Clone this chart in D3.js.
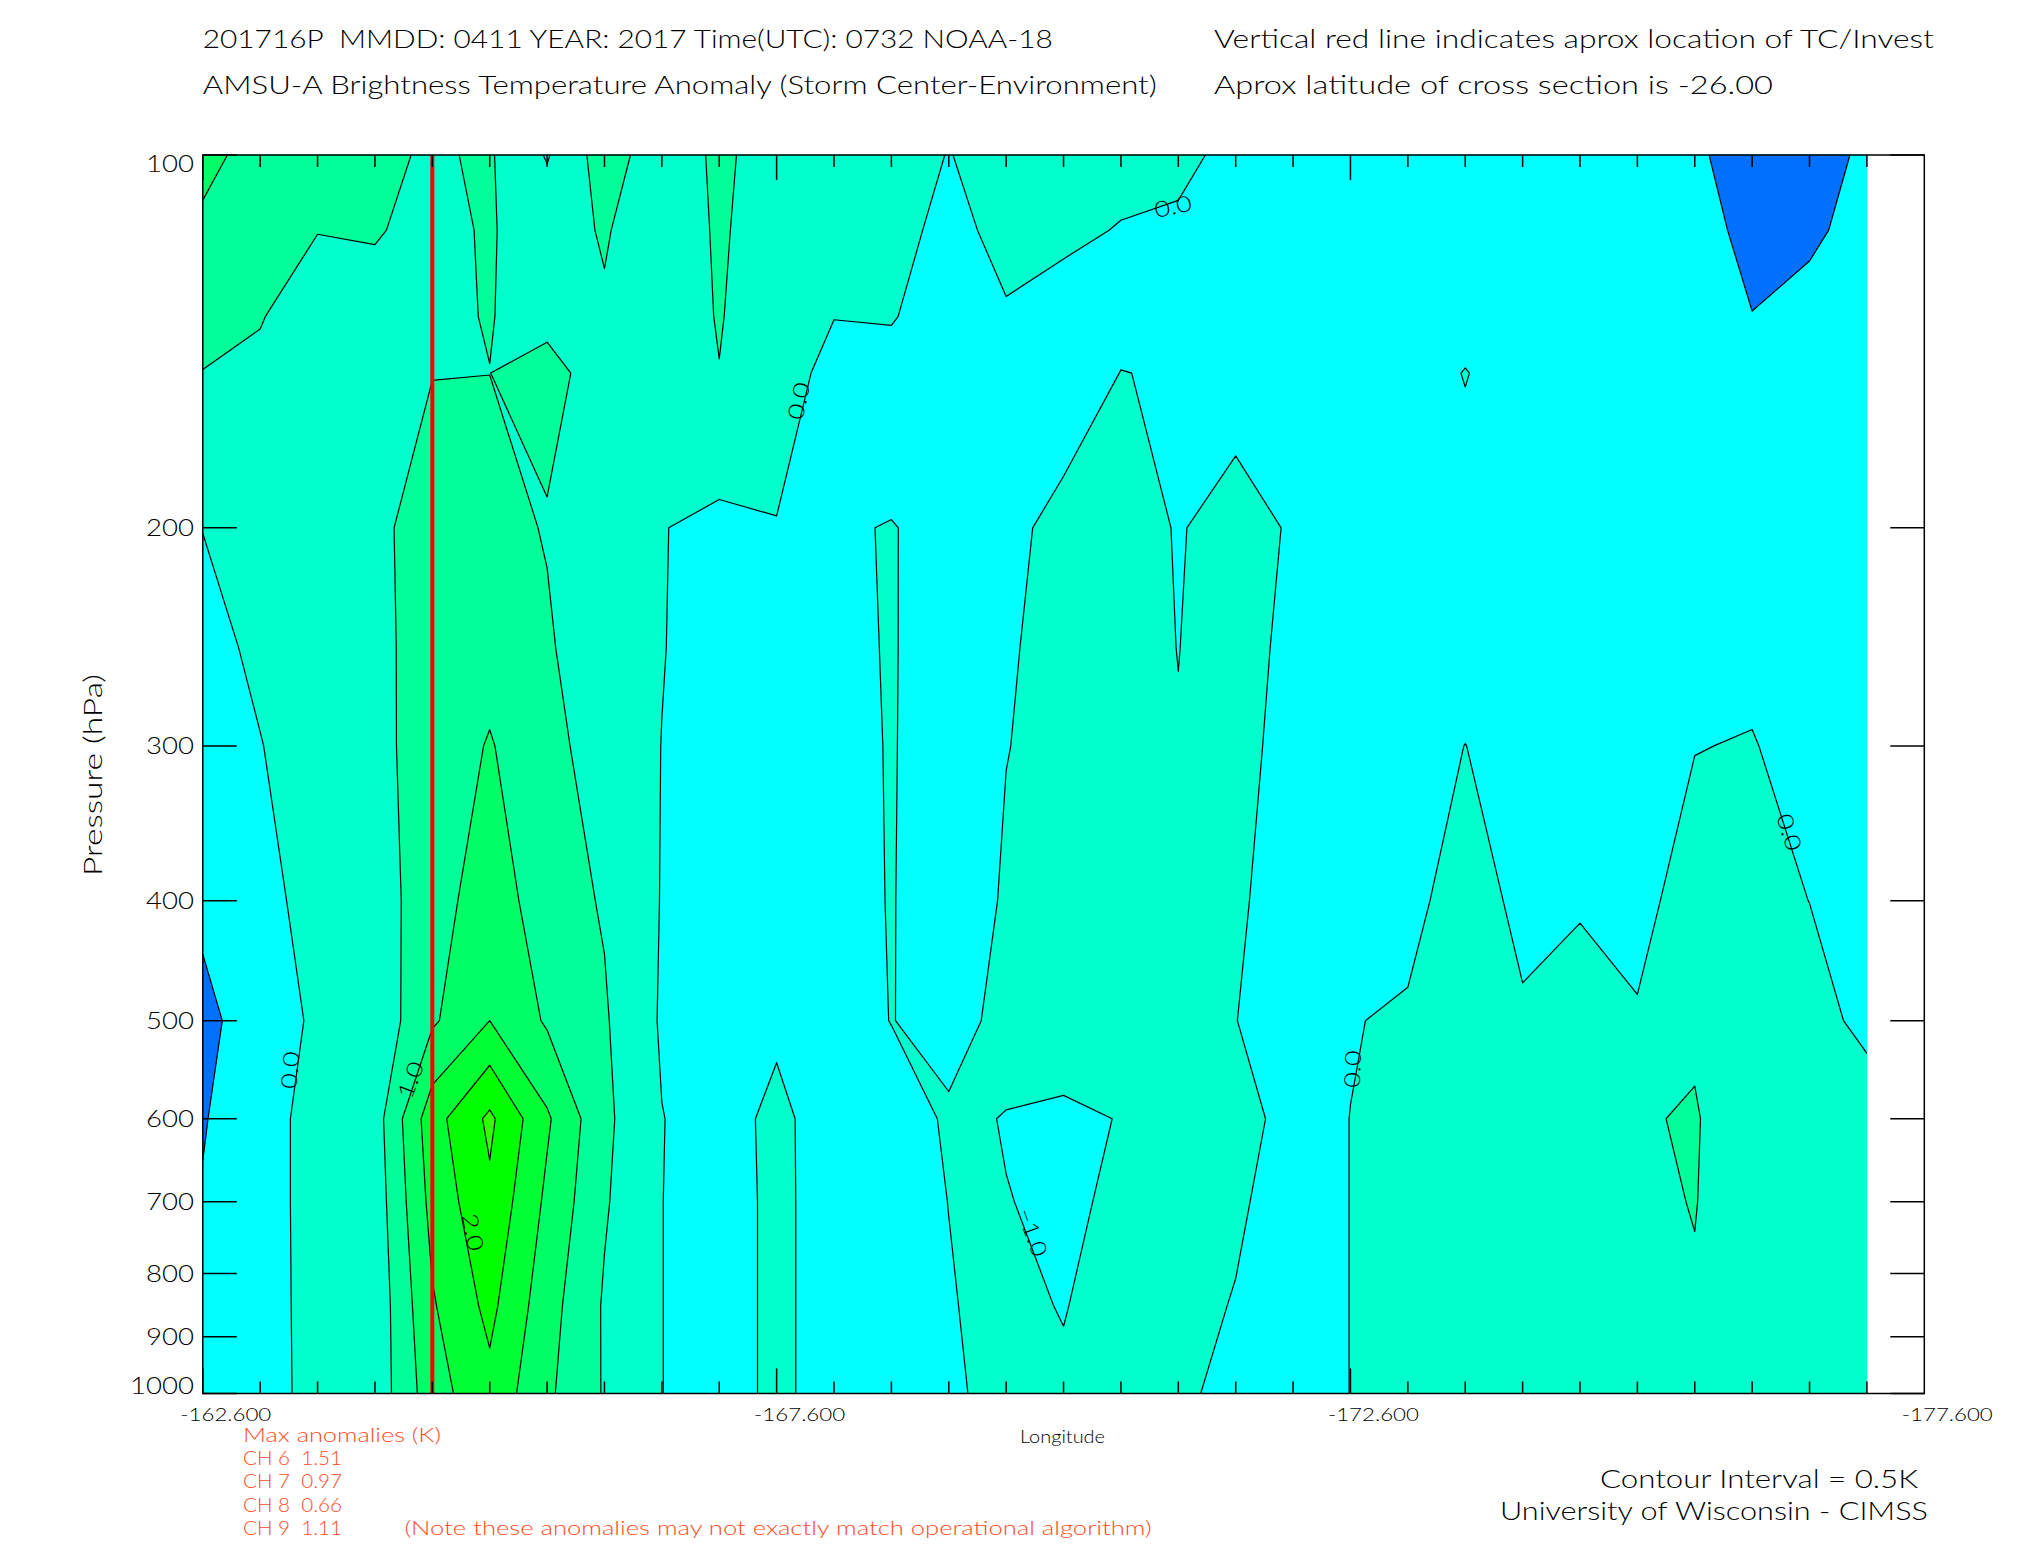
<!DOCTYPE html>
<html>
<head>
<meta charset="utf-8">
<title>AMSU-A Brightness Temperature Anomaly</title>
<script src="https://cdn.jsdelivr.net/npm/d3@7/dist/d3.min.js"></script>
<style>
html,body{margin:0;padding:0;background:#fff;}
svg{display:block;}
text{font-family:Lato,"Liberation Sans","DejaVu Sans",Arial,sans-serif;font-weight:300;white-space:pre;}
</style>
</head>
<body>
<svg id="chart" width="2025" height="1550"></svg>
<script>
// ---------------- DATA ----------------
const longitudes = [-162.6,-163.1,-163.6,-164.1,-164.6,-165.1,-165.6,-166.1,-166.6,-167.1,
                    -167.6,-168.1,-168.6,-169.1,-169.6,-170.1,-170.6,-171.1,-171.6,-172.1,
                    -172.6,-173.1,-173.6,-174.1,-174.6,-175.1,-175.6,-176.1,-176.6,-177.1];
const pressureLevels = [100,115,135,150,200,250,300,400,500,600,700,850,1000];

// brightness temperature anomaly (K), one array per pressure level
const anom100  = [1.15,0.8,0.7,0.575,0.456,0.55,-0.04,0.74,0.21,0.59,0.29,0.25,0.4,-0.03,0.38,0.18,0.086,0.041,-0.046,-0.2,-0.2,-0.2,-0.2,-0.2,-0.2,-0.2,-0.35,-0.95,-0.69,-0.42];
const anom115  = [0.9,0.7,0.51,0.52,0.42,0.53,0.3,0.54,0.2,0.56,0.25,0.15,0.12,-0.1,0.1,0.05,-0.013,-0.027,-0.1,-0.2,-0.2,-0.2,-0.2,-0.2,-0.2,-0.2,-0.1,-0.8,-0.55,-0.4];
const anom135  = [0.65,0.52,0.3,0.4,0.46,0.51,0.4,0.45,0.22,0.53,0.18,0.005,0.02,-0.15,-0.03,-0.1,-0.05,-0.1,-0.13,-0.2,-0.2,-0.2,-0.2,-0.2,-0.2,-0.2,-0.2,-0.48,-0.41,-0.35];
const anom150  = [0.49,0.43,0.16,0.39,0.49,0.498,0.62,0.33,0.25,0.49,0.12,-0.08,-0.106,-0.2,-0.15,-0.1,0.003,-0.013,-0.144,-0.2,-0.2,-0.25,0.02,-0.25,-0.2,-0.2,-0.2,-0.3,-0.3,-0.3];
const anom200  = [0.005,0.15,0.25,0.4,0.7,0.66,0.47,0.25,0.015,-0.11,-0.01,-0.015,0.006,-0.044,-0.043,0.05,0.15,-0.022,0.125,-0.033,-0.2,-0.2,-0.2,-0.2,-0.2,-0.2,-0.2,-0.25,-0.3,-0.25];
const anom250  = [-0.1,0.06,0.2,0.37,0.72,0.85,0.56,0.16,0.01,-0.12,-0.1,-0.15,0.04,-0.3,-0.05,0.158,0.25,-0.01,0.3,-0.2,-0.2,-0.2,-0.2,-0.2,-0.2,-0.2,-0.2,-0.2,-0.3,-0.25];
const anom300  = [-0.15,-0.01,0.157,0.35,0.75,1.03,0.7,0.2,-0.004,-0.15,-0.15,-0.2,0.035,-0.3,-0.01,0.115,0.3,0.032,0.177,-0.2,-0.2,-0.2,0.005,-0.2,-0.2,-0.2,-0.02,0.04,-0.3,-0.25];
const anom400  = [-0.35,-0.08,0.094,0.28,0.76,1.3,0.71,0.46,-0.02,-0.15,-0.15,-0.2,0.025,-0.3,0.053,0.15,0.3,0.2,0.063,-0.2,-0.2,-0.22,0.35,-0.18,-0.04,-0.2,0.3,0.2,-0.005,-0.2];
const anom500  = [-0.685,-0.14,0.044,0.15,0.93,1.5,0.94,0.55,-0.05,-0.17,-0.075,-0.2,0.01,-0.13,0.1,0.16,0.3,0.25,0.006,-0.2,-0.03,0.085,0.2,0.083,0.174,0.056,0.4,0.3,0.218,-0.15];
const anom600  = [-0.53,-0.2,0.18,0.27,1.8,2.6,1.57,0.607,0.01,-0.17,0.1,-0.21,-0.2,0.05,-0.01,-0.05,0.009,0.3,0.217,-0.2,0.005,0.2,0.2,0.2,0.25,0.45,0.55,0.05,0.3,0.3];
const anom700  = [-0.47,-0.2,0.18,0.21,1.66,2.4,1.4,0.55,0.005,-0.2,0.1,-0.2,-0.2,0.005,0.005,-0.03,0.029,0.3,0.067,-0.2,0.005,0.2,0.2,0.2,0.25,0.39,0.52,0.12,0.3,0.25];
const anom850  = [-0.4,-0.2,0.17,0.15,1.45,2.13,1.2,0.45,0.005,-0.2,0.1,-0.2,-0.2,-0.03,0.146,-0.03,0.3,0.136,-0.024,-0.2,0.005,0.2,0.2,0.2,0.25,0.3,0.45,0.25,0.25,0.2];
const anom1000 = [-0.35,-0.2,0.16,0.18,1.29,1.86,1.09,0.46,0.005,-0.2,0.1,-0.2,-0.2,-0.05,0.1,0.1,0.25,0.064,-0.1,-0.2,0.005,0.2,0.2,0.2,0.25,0.25,0.3,0.25,0.25,0.2];

// contour levels (K) and the fill colour of the band just above / below each level
const warmLevels = [0.5,1.0,1.5,2.0,2.5];
const warmColors = ["#00ff99","#00ff66","#00ff33","#00ff00","#33ff00"];
const coolLevels = [0,-0.5];
const coolColors = ["#00ffff","#0070ff"];
const baseColor = "#00ffcc";

const pressureTicks = [100,200,300,400,500,600,700,800,900,1000];
const lonTickLabels = [-162.6,-167.6,-172.6,-177.6];
const stormLon = -164.6;

const contourLabels = [
  {text:"0.0", lon:-167.786, p:157.9, angle:-78},
  {text:"0.0", lon:-171.053, p:109.9, angle:-12},
  {text:"0.0", lon:-163.355, p:548,   angle:-86},
  {text:"1.0", lon:-164.405, p:558,   angle:-69},
  {text:"2.0", lon:-164.959, p:740.6, angle:79},
  {text:"\u22121.0", lon:-169.834, p:740.6, angle:70},
  {text:"0.0", lon:-172.613, p:547,   angle:-88},
  {text:"0.0", lon:-176.428, p:352,   angle:72}
];

const titleLeft1 = "201716P  MMDD: 0411 YEAR: 2017 Time(UTC): 0732 NOAA-18";
const titleRight1 = "Vertical red line indicates aprox location of TC/Invest";
const titleLeft2 = "AMSU-A Brightness Temperature Anomaly (Storm Center-Environment)";
const titleRight2 = "Aprox latitude of cross section is -26.00";
const maxAnomChannels = ["CH 6","CH 7","CH 8","CH 9"];
const maxAnomValues = ["1.51","0.97","0.66","1.11"];

// ---------------- CHART ----------------
const svg = d3.select("#chart");
const plot = {left:202.8, right:1924.3, top:155, bottom:1393.5};
const xScale = d3.scaleLinear().domain([-162.6,-177.6]).range([plot.left, plot.right]);
const yScale = d3.scaleLog().domain([100,1000]).range([plot.top, plot.bottom]);

const nx = longitudes.length, ny = pressureLevels.length;
const rows = [anom100,anom115,anom135,anom150,anom200,anom250,anom300,anom400,anom500,anom600,anom700,anom850,anom1000];
const values = [].concat(...rows);
const negValues = values.map(v => -v);
const logP = pressureLevels.map(Math.log);

function gx(cx){
  const f = Math.max(0, Math.min(nx-1, cx-0.5));
  const i = Math.min(nx-2, Math.floor(f)), t = f - i;
  return xScale(longitudes[i] + (longitudes[i+1]-longitudes[i])*t);
}
function gy(cy){
  const f = Math.max(0, Math.min(ny-1, cy-0.5));
  const i = Math.min(ny-2, Math.floor(f)), t = f - i;
  return yScale(Math.exp(logP[i] + (logP[i+1]-logP[i])*t));
}
const P = p => gx(p[0]).toFixed(2)+","+gy(p[1]).toFixed(2);
function fillPath(mp){
  let d = "";
  mp.coordinates.forEach(poly => poly.forEach(ring => { d += "M" + ring.map(P).join("L") + "Z"; }));
  return d;
}
function onSameBorder(a,b){
  return (a[0]<=0.5 && b[0]<=0.5) || (a[0]>=nx-0.5 && b[0]>=nx-0.5) ||
         (a[1]<=0.5 && b[1]<=0.5) || (a[1]>=ny-0.5 && b[1]>=ny-0.5);
}
function linePath(mp){
  let d = "";
  mp.coordinates.forEach(poly => poly.forEach(ring => {
    let pen = false;
    for (let k=0; k<ring.length; k++){
      const a = ring[k], b = ring[(k+1)%ring.length];
      if (a[0]===b[0] && a[1]===b[1]) continue;
      if (onSameBorder(a,b)) { pen = false; continue; }
      if (!pen) d += "M" + P(a);
      d += "L" + P(b);
      pen = true;
    }
  }));
  return d;
}

const gen = d3.contours().size([nx, ny]);
const gFill = svg.append("g");
const gLines = svg.append("g");
function addFill(c, color){
  gFill.append("path").attr("d", fillPath(c)).attr("fill", color)
    .attr("stroke", color).attr("stroke-width", 0.5);
}
function addLine(c){
  gLines.append("path").attr("d", linePath(c)).attr("fill","none")
    .attr("stroke","#000").attr("stroke-width",1.2).attr("stroke-linejoin","round");
}
addFill(gen.contour(values, -1e6), baseColor);
coolLevels.forEach((lev,k) => {
  const c = gen.contour(negValues, -lev);
  addFill(c, coolColors[k]);
  addLine(c);
});
warmLevels.forEach((lev,k) => {
  const c = gen.contour(values, lev);
  addFill(c, warmColors[k]);
  addLine(c);
});
svg.node().appendChild(gLines.node());

const gLab = svg.append("g");
contourLabels.forEach(l => {
  const x = xScale(l.lon), y = yScale(l.p);
  gLab.append("text").attr("transform", `translate(${x},${y}) rotate(${l.angle})`)
    .attr("text-anchor","middle").attr("dominant-baseline","central")
    .attr("font-size",22).attr("fill","#000")
    .attr("textLength", l.text.length*12.5).attr("lengthAdjust","spacingAndGlyphs")
    .text(l.text);
});

svg.append("line").attr("x1", xScale(stormLon)).attr("x2", xScale(stormLon))
  .attr("y1", plot.top).attr("y2", plot.bottom)
  .attr("stroke","#ff0000").attr("stroke-width",4);

const gAx = svg.append("g").attr("stroke","#000").attr("stroke-width",1.5).attr("fill","none");
gAx.append("rect").attr("x",plot.left).attr("y",plot.top)
  .attr("width",plot.right-plot.left).attr("height",plot.bottom-plot.top);

longitudes.forEach(lon => {
  const x = xScale(lon);
  const major = lonTickLabels.some(v => Math.abs(v-lon) < 1e-6);
  const len = major ? 25 : 12;
  gAx.append("line").attr("x1",x).attr("x2",x).attr("y1",plot.top).attr("y2",plot.top+len);
  gAx.append("line").attr("x1",x).attr("x2",x).attr("y1",plot.bottom).attr("y2",plot.bottom-len);
});
pressureTicks.forEach(p => {
  const y = yScale(p);
  gAx.append("line").attr("x1",plot.left).attr("x2",plot.left+34).attr("y1",y).attr("y2",y);
  gAx.append("line").attr("x1",plot.right).attr("x2",plot.right-34).attr("y1",y).attr("y2",y);
});

pressureTicks.forEach(p => {
  let y = yScale(p) + 8.5;
  if (p === 100) y = yScale(p) + 17;
  if (p === 1000) y = yScale(p) + 0;
  const s = String(p);
  svg.append("text").attr("x",194).attr("y",y).attr("text-anchor","end")
    .attr("font-size",24).attr("fill","#000")
    .attr("textLength", s.length*16).attr("lengthAdjust","spacingAndGlyphs").text(s);
});
lonTickLabels.forEach(lon => {
  const s = lon.toFixed(3);
  svg.append("text").attr("x", xScale(lon)+23).attr("y",1421).attr("text-anchor","middle")
    .attr("font-size",18).attr("fill","#000")
    .attr("textLength",91).attr("lengthAdjust","spacingAndGlyphs").text(s);
});

function txt(s, x, y, size, len, color, anchor){
  return svg.append("text").attr("x",x).attr("y",y).attr("font-size",size)
    .attr("fill",color||"#000").attr("text-anchor",anchor||"start")
    .attr("textLength",len).attr("lengthAdjust","spacingAndGlyphs").text(s);
}
txt(titleLeft1, 202.8, 47.5, 25, 850, "#000");
txt(titleRight1, 1214, 47.5, 25, 720, "#000");
txt(titleLeft2, 202.8, 94, 25, 954, "#000");
txt(titleRight2, 1214, 94, 25, 559, "#000");

svg.append("text").attr("transform","translate(102,775) rotate(-90)")
  .attr("text-anchor","middle").attr("font-size",25).attr("fill","#000")
  .attr("textLength",202).attr("lengthAdjust","spacingAndGlyphs").text("Pressure (hPa)");
txt("Longitude", 1020, 1443, 17, 85, "#000");

const red = "#ff4a1a";
txt("Max anomalies (K)", 243, 1442, 19, 198, red);
maxAnomChannels.forEach((ch,i) => {
  txt(ch + "  " + maxAnomValues[i], 243, 1465 + i*23.3, 19, 99, red);
});
txt("(Note these anomalies may not exactly match operational algorithm)", 404.5, 1535, 19, 747, red);

txt("Contour Interval = 0.5K", 1600, 1488, 26, 318, "#000");
txt("University of Wisconsin - CIMSS", 1500, 1520, 26, 428, "#000");
</script>
</body>
</html>
